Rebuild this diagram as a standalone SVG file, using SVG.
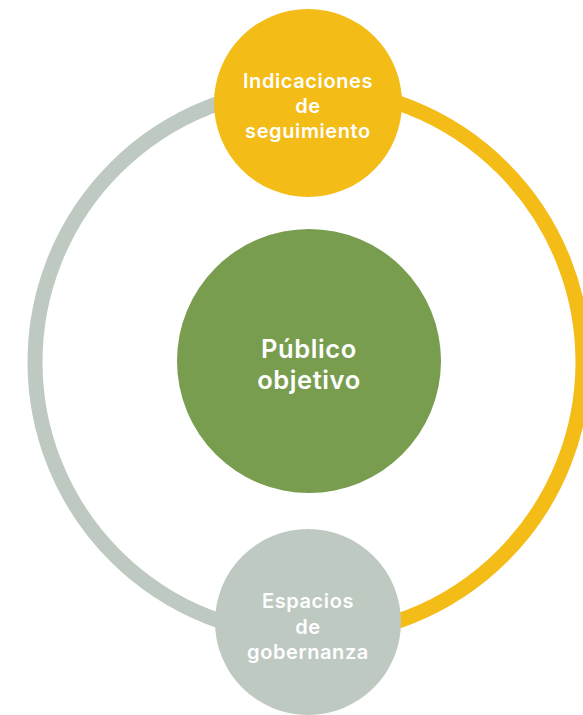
<svg xmlns="http://www.w3.org/2000/svg" width="583" height="715" viewBox="0 0 583 715">
<style>
.t{font-family:Inter,"Open Sans","Liberation Sans",sans-serif;fill:#ffffff;font-weight:600;text-anchor:middle}
.s{font-size:20px;letter-spacing:0.6px}
.c{font-size:25.5px;letter-spacing:0.6px}
</style>
<rect width="583" height="715" fill="#ffffff"/>
<g id="connectors" fill="none" stroke-width="15">
<path d="M309 88 A274 274 0 0 0 309 636" stroke="#bec9c1"/>
<path d="M309 88 A274 274 0 0 1 309 636" stroke="#f4bc17"/>
</g>
<g id="node-center">
<circle cx="309" cy="361" r="132" fill="#789d4f"/>
<text class="t c" x="309" y="358">Público</text>
<text class="t c" x="309" y="389">objetivo</text>
</g>
<g id="node-top">
<circle cx="308" cy="103" r="94" fill="#f4bc17"/>
<text class="t s" x="308" y="88">Indicaciones</text>
<text class="t s" x="308" y="113">de</text>
<text class="t s" x="308" y="138">seguimiento</text>
</g>
<g id="node-bottom">
<circle cx="308" cy="622" r="93" fill="#bec9c1"/>
<text class="t s" x="308" y="608">Espacios</text>
<text class="t s" x="308" y="634">de</text>
<text class="t s" x="308" y="659">gobernanza</text>
</g>
</svg>
